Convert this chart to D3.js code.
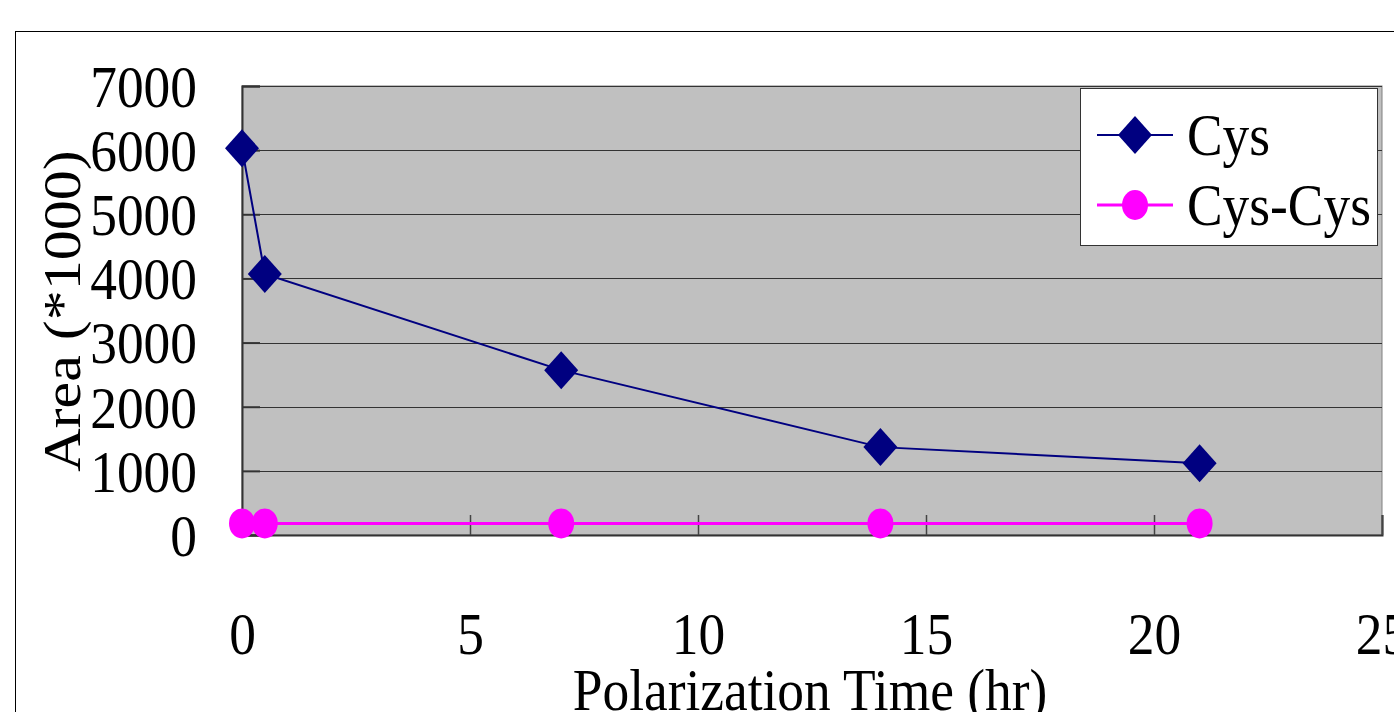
<!DOCTYPE html>
<html lang="en">
<head>
  <meta charset="UTF-8">
  <title>Polarization Time</title>
  <script src="https://d3js.org/d3.v7.min.js"></script>
</head>
<style>
  body { margin: 0; background: white; }
  text { font-family: "Liberation Serif", "Times New Roman", serif; fill: black; }
</style>
<body>
<svg id="chart" width="1394" height="712"></svg>

<script>
  // values
  const hours = [0, 0.5, 7, 14, 21];
  const cys = [6030, 4070, 2570, 1370, 1120];
  const cysCys = [180, 180, 180, 180, 180];
  const xTicks = [0, 5, 10, 15, 20, 25];
  const yTicks = [0, 1000, 2000, 3000, 4000, 5000, 6000, 7000];
  const seriesNames = ["Cys", "Cys-Cys"];

  const svg = d3.select("#chart");
  const plotLeft = 242, plotRight = 1382, plotTop = 86, plotBottom = 535;
  const squeeze = 0.89; // the picture is stretched a bit vertically

  // outer frame
  svg.append("rect")
    .attr("x", 15.5).attr("y", 31.5)
    .attr("width", 1400).attr("height", 700)
    .attr("fill", "none").attr("stroke", "black").attr("stroke-width", 1);

  const x = d3.scaleLinear().domain([0, 25]).range([plotLeft, plotRight]);
  const y = d3.scaleLinear().domain([0, 7000]).range([plotBottom, plotTop]);

  // plot area
  svg.append("rect")
    .attr("x", plotLeft).attr("y", plotTop)
    .attr("width", plotRight - plotLeft).attr("height", plotBottom - plotTop)
    .attr("fill", "#c0c0c0").attr("stroke", "#808080");

  // gridlines
  svg.append("g").selectAll("line")
    .data(yTicks.slice(1)).join("line")
    .attr("x1", plotLeft).attr("x2", plotRight)
    .attr("y1", d => Math.round(y(d)) + 0.5).attr("y2", d => Math.round(y(d)) + 0.5)
    .attr("stroke", "#333").attr("stroke-width", 1);

  // y axis
  const yAxis = svg.append("g")
    .attr("transform", `translate(${plotLeft},0)`)
    .call(d3.axisLeft(y).tickValues(yTicks).tickFormat(d3.format("d")).tickSize(-18).tickPadding(0));
  yAxis.select(".domain").attr("stroke", "#333").attr("stroke-width", 2);
  yAxis.selectAll(".tick line").attr("stroke", "#333").attr("stroke-width", 2);
  yAxis.selectAll(".tick text")
    .attr("x", 0).attr("dy", "0.34em")
    .attr("font-size", 60)
    .attr("transform", `translate(-45,0) scale(${squeeze},1)`);

  // x axis
  const xAxis = svg.append("g")
    .attr("transform", `translate(0,${plotBottom})`)
    .call(d3.axisBottom(x).tickValues(xTicks).tickSize(-20).tickPadding(0));
  xAxis.select(".domain").attr("stroke", "#333").attr("stroke-width", 2);
  xAxis.selectAll(".tick line").attr("stroke", "#444").attr("stroke-width", 1.5);
  xAxis.selectAll(".tick text")
    .attr("y", 0).attr("dy", "0.34em")
    .attr("font-size", 60)
    .attr("transform", `translate(0,99) scale(${squeeze},1)`);

  // axis titles
  svg.append("text")
    .attr("transform", `translate(810,690) scale(${squeeze},1)`)
    .attr("text-anchor", "middle").attr("dy", "0.34em")
    .attr("font-size", 60)
    .text("Polarization Time (hr)");

  svg.append("text")
    .attr("transform", `translate(62,311) rotate(-90) scale(1,${squeeze})`)
    .attr("text-anchor", "middle").attr("dy", "0.34em")
    .attr("font-size", 60)
    .text("Area (*1000)");

  const line = d3.line().x(d => x(d[0])).y(d => y(d[1]));
  const cysPts = hours.map((h, i) => [h, cys[i]]);
  const dimerPts = hours.map((h, i) => [h, cysCys[i]]);

  const diamond = "M0,-19L17,0L0,19L-17,0Z";

  // Cys series
  svg.append("path").datum(cysPts)
    .attr("d", line).attr("fill", "none")
    .attr("stroke", "#000080").attr("stroke-width", 2);
  svg.append("g").selectAll("path")
    .data(cysPts).join("path")
    .attr("transform", d => `translate(${x(d[0])},${y(d[1])})`)
    .attr("d", diamond).attr("fill", "#000080");

  // Cys-Cys series
  svg.append("path").datum(dimerPts)
    .attr("d", line).attr("fill", "none")
    .attr("stroke", "#ff00ff").attr("stroke-width", 3);
  svg.append("g").selectAll("ellipse")
    .data(dimerPts).join("ellipse")
    .attr("cx", d => x(d[0])).attr("cy", d => y(d[1]))
    .attr("rx", 13).attr("ry", 15)
    .attr("fill", "#ff00ff");

  // legend
  const legend = svg.append("g").attr("transform", "translate(1080,88)");
  legend.append("rect")
    .attr("x", 0.5).attr("y", 0.5).attr("width", 297).attr("height", 157)
    .attr("fill", "white").attr("stroke", "#333");
  const colors = ["#000080", "#ff00ff"];
  const rows = legend.selectAll("g.row")
    .data(seriesNames).join("g")
    .attr("class", "row")
    .attr("transform", (d, i) => `translate(0,${47 + i * 70})`);
  rows.append("line")
    .attr("x1", 17).attr("x2", 93)
    .attr("stroke", (d, i) => colors[i]).attr("stroke-width", (d, i) => i ? 3 : 2);
  rows.filter((d, i) => i === 0).append("path")
    .attr("transform", "translate(55,0)").attr("d", diamond).attr("fill", colors[0]);
  rows.filter((d, i) => i === 1).append("ellipse")
    .attr("cx", 55).attr("rx", 13).attr("ry", 15).attr("fill", colors[1]);
  rows.append("text")
    .attr("transform", `translate(107,0) scale(${squeeze},1)`)
    .attr("dy", "0.34em").attr("font-size", 60)
    .text(d => d);
</script>
</body>
</html>
